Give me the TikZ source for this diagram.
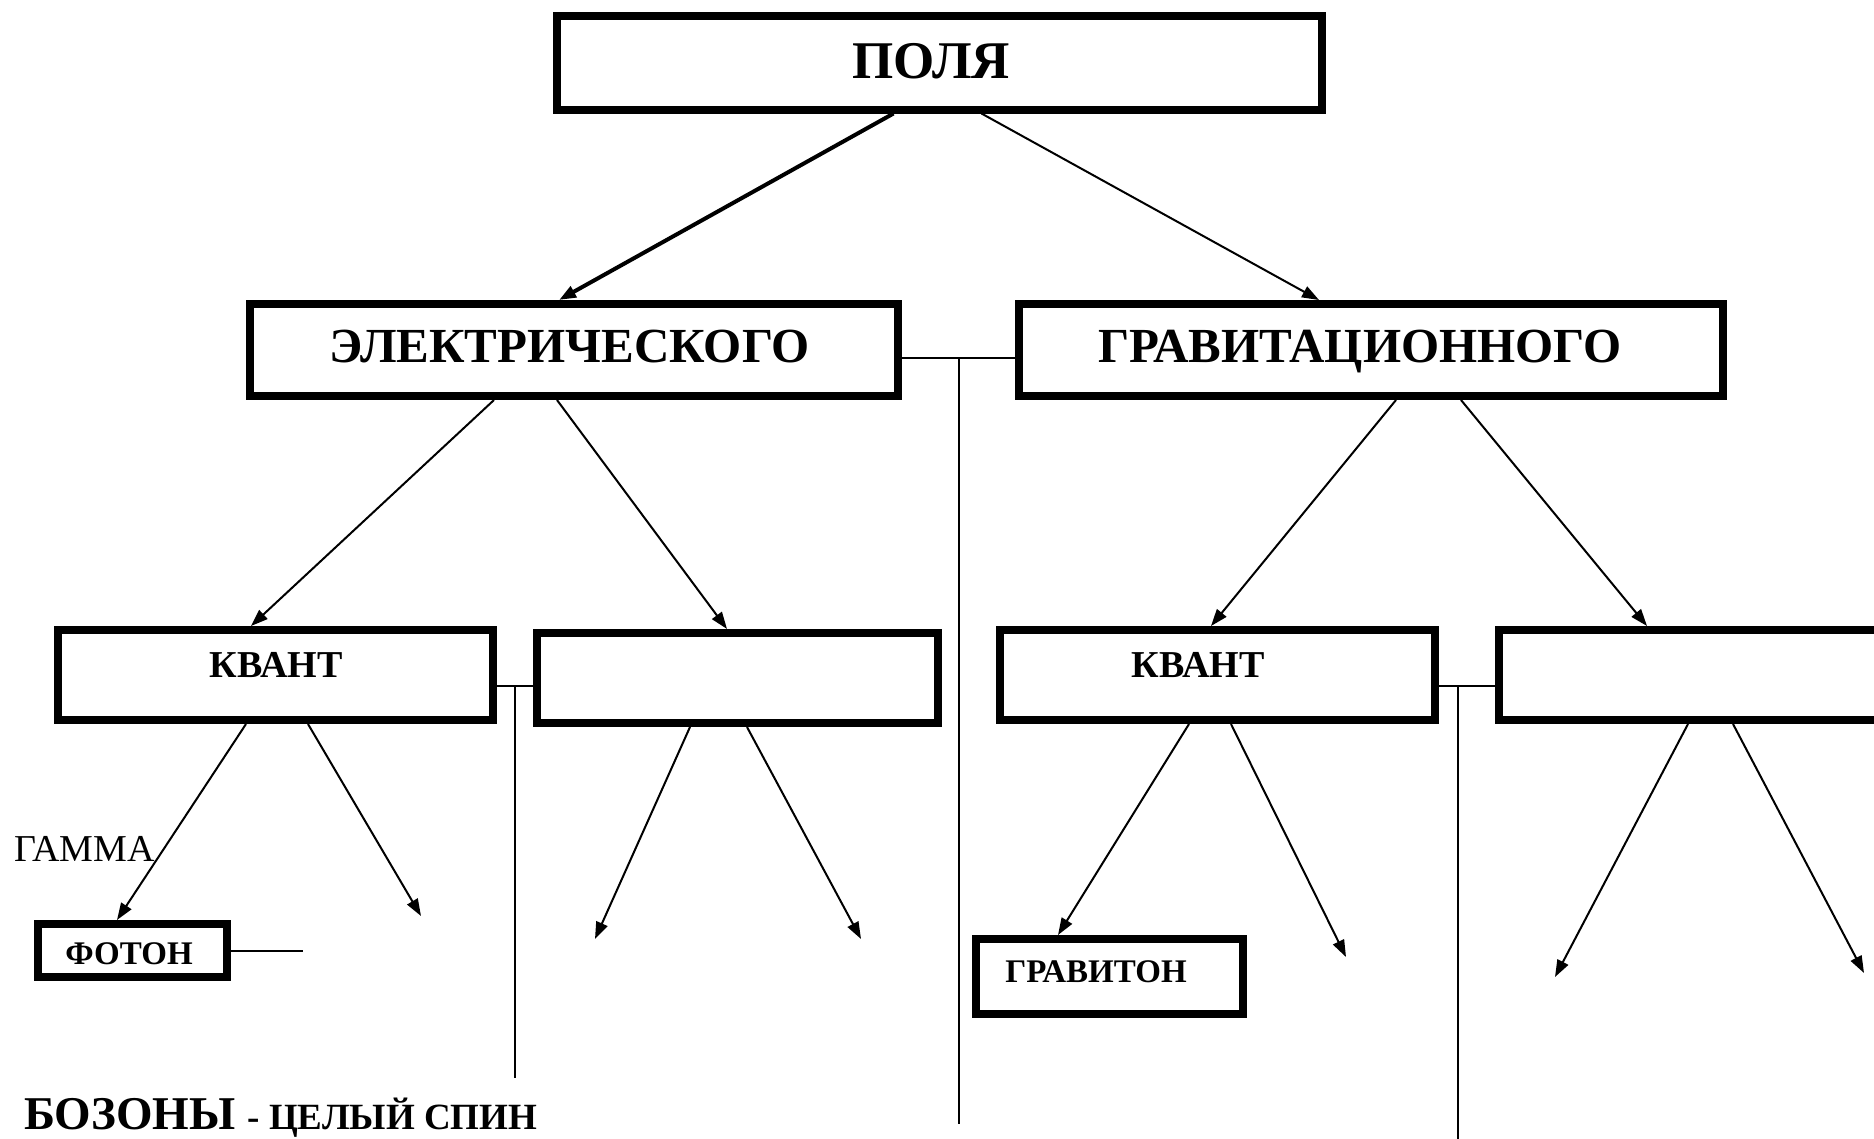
\documentclass[tikz,border=0pt]{standalone}
\usepackage{fontspec}
\setmainfont{Liberation Serif}
\usetikzlibrary{arrows.meta,calc}

\tikzset{
  box/.style={draw, line width=8pt, rectangle, inner sep=0pt, fill=white},
  conn/.style={line width=2pt},
  arr/.style={line width=2pt, -{Triangle[length=17pt,width=12pt]}},
  thickarr/.style={line width=4pt, -{Triangle[length=17pt,width=12pt]}},
  big/.style={font=\fontsize{53}{60}\selectfont\bfseries, anchor=base, inner sep=0pt},
  mid/.style={font=\fontsize{49}{56}\selectfont\bfseries, anchor=base, inner sep=0pt},
  small/.style={font=\fontsize{38}{44}\selectfont\bfseries, anchor=base, inner sep=0pt},
  tiny/.style={font=\fontsize{33}{38}\selectfont\bfseries, anchor=base, inner sep=0pt},
}

\begin{document}
\begin{tikzpicture}[x=1pt,y=-1pt]
  \clip (0,0) rectangle (1874,1138);
  \fill[white] (0,0) rectangle (1874,1138);

  % boxes
  \node[box, minimum width=765pt, minimum height=94pt] (poly) at (939,62.5) {};
  \node[box, minimum width=648pt, minimum height=92pt] (el)   at (574,350) {};
  \node[box, minimum width=704pt, minimum height=92pt] (gr)   at (1371,350) {};
  \node[box, minimum width=435pt, minimum height=90pt] (kv1)  at (275.5,675) {};
  \node[box, minimum width=401pt, minimum height=90pt] (b2)   at (737.5,678) {};
  \node[box, minimum width=435pt, minimum height=90pt] (kv2)  at (1217.5,675) {};
  \node[box, minimum width=407pt, minimum height=90pt] (b4)   at (1702.5,675) {};
  \node[box, minimum width=189pt, minimum height=53pt] (ph)   at (132.5,950.5) {};
  \node[box, minimum width=267pt, minimum height=75pt] (gv)   at (1109.5,976.5) {};

  % box texts
  \node[big] (tpoly) at (931,78)  {ПОЛЯ};
  \node[mid] (tel)   at (570,362) {ЭЛЕКТРИЧЕСКОГО};
  \node[mid] (tgr)   at (1360,362) {ГРАВИТАЦИОННОГО};
  \node[small] (tkv1) at (276,677) {КВАНТ};
  \node[small] (tkv2) at (1198,677) {КВАНТ};
  \node[tiny] (tph)  at (129,964) {ФОТОН};
  \node[tiny] (tgv)  at (1096,982) {ГРАВИТОН};

  % free labels
  \node[font=\fontsize{38}{44}\selectfont, anchor=base west, inner sep=0pt] (gamma) at (14,861) {ГАММА};
  \node[anchor=base west, inner sep=0pt] (boz) at (24,1129)
    {{\fontsize{47}{54}\selectfont\bfseries БОЗОНЫ}\hspace{12pt}{\fontsize{37}{42}\selectfont\bfseries - ЦЕЛЫЙ СПИН}};

  % arrows between levels
  \draw[thickarr] ([xshift=341pt]poly.south west) -- ([xshift=313pt]el.north west);
  \draw[arr] ([xshift=429pt]poly.south west) -- ([xshift=304pt]gr.north west);

  \draw[arr] ([xshift=248pt]el.south west) -- ([xshift=197pt]kv1.north west);
  \draw[arr] ([xshift=311pt]el.south west) -- ([xshift=194pt]b2.north west);
  \draw[arr] ([xshift=381pt]gr.south west) -- ([xshift=215pt]kv2.north west);
  \draw[arr] ([xshift=446pt]gr.south west) -- ([xshift=152pt]b4.north west);

  \draw[arr] ([xshift=192pt]kv1.south west) -- ([xshift=83pt]ph.north west);
  \draw[arr] ([xshift=193pt]kv2.south west) -- ([xshift=86pt]gv.north west);

  % open-ended arrows
  \coordinate (f1) at (421,916);
  \coordinate (f2) at (595,939);
  \coordinate (f3) at (861,939);
  \coordinate (f4) at (1346,957);
  \coordinate (f5) at (1555,977);
  \coordinate (f6) at (1864,973);
  \draw[arr] ([xshift=254pt]kv1.south west) -- (f1);
  \draw[arr] ([xshift=157pt]b2.south west) -- (f2);
  \draw[arr] ([xshift=214pt]b2.south west) -- (f3);
  \draw[arr] ([xshift=235pt]kv2.south west) -- (f4);
  \draw[arr] ([xshift=193pt]b4.south west) -- (f5);
  \draw[arr] ([xshift=238pt]b4.south west) -- (f6);

  % side links
  \coordinate (pe) at (303,950.5);
  \draw[conn] (ph.east) -- (pe);

  \draw[conn] ([yshift=-8pt]el.east) coordinate (l1a) -- ([yshift=-8pt]gr.west) coordinate (l1b);
  \coordinate (v1) at (958,1124);
  \draw[conn] ($(l1a)!0.5!(l1b)$) -- (v1 -| {$(l1a)!0.5!(l1b)$});

  \draw[conn] ([yshift=-11pt]kv1.east) coordinate (l2a) -- (l2a -| b2.west) coordinate (l2b);
  \coordinate (v2) at (516,1078);
  \draw[conn] ($(l2a)!0.5!(l2b)$) -- (v2 -| {$(l2a)!0.5!(l2b)$});

  \draw[conn] ([yshift=-11pt]kv2.east) coordinate (l3a) -- (l3a -| b4.west) coordinate (l3b);
  \coordinate (v3) at (1458,1140);
  \draw[conn] ($(l3a)!0.34!(l3b)$) -- (v3 -| {$(l3a)!0.34!(l3b)$});
\end{tikzpicture}
\end{document}
